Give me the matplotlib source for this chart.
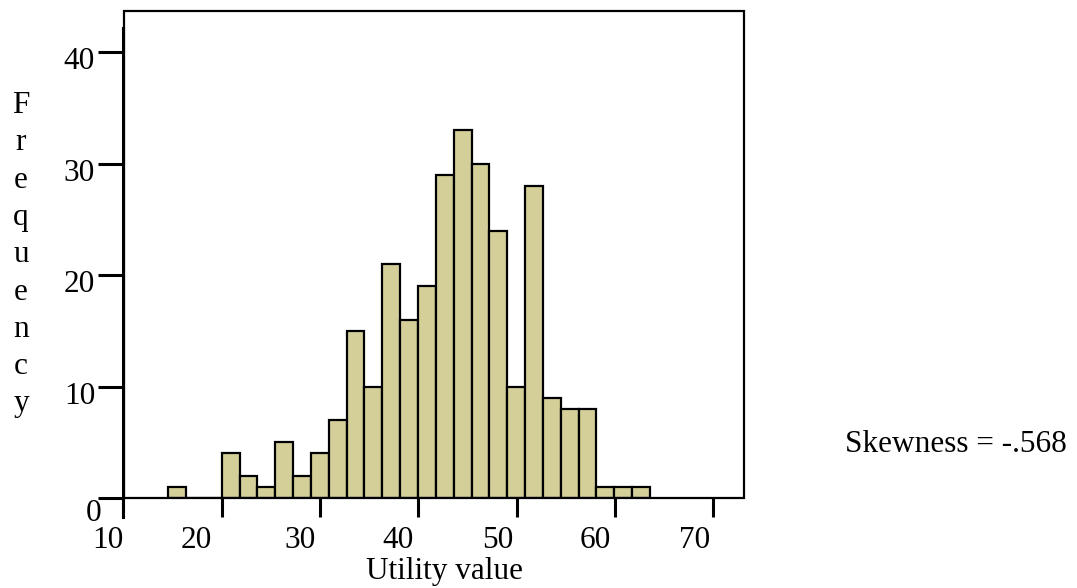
import numpy as np
import matplotlib
matplotlib.use("Agg")
import matplotlib.pyplot as plt
from matplotlib.patches import Rectangle
from matplotlib.transforms import ScaledTranslation

# histogram counts (bins of equal width)
counts = [1, 0, 0, 4, 2, 1, 5, 2, 4, 7, 15, 10, 21, 16, 19,
          29, 33, 30, 24, 10, 28, 9, 8, 8, 1, 1, 1]
bin_start = 14.55
bin_width = 1.815

x_ticks = [10, 20, 30, 40, 50, 60, 70]
y_ticks = [0, 10, 20, 30, 40]
x_label = "Utility value"
y_label = "Frequency"
note = "Skewness = -.568"

W, H = 1077, 588
plt.rcParams['font.family'] = ['Liberation Serif', 'DejaVu Serif']
fig = plt.figure(figsize=(W / 100, H / 100), dpi=100)
ax = fig.add_axes([123.5 / W, (H - 498) / H, 620.8 / W, 487 / H])

lefts = bin_start + bin_width * np.arange(len(counts))
ax.bar(lefts, counts, width=bin_width, align='edge',
       color='#d4cf98', edgecolor='black', linewidth=1.6, zorder=2)

ax.set_xlim(10, 73.15)
ax.set_ylim(0, 43.7)

for s in ax.spines.values():
    s.set_visible(False)
ax.add_patch(Rectangle((0, 0), 1, 1, transform=ax.transAxes, fill=False,
                       lw=1.6, ec='black', clip_on=False, zorder=3))
ax.axvline(10, ymin=-0.039, ymax=0.965, color='black', lw=2.2,
           clip_on=False, zorder=4)

fs = 22.5
ax.set_xticks(x_ticks)
ax.set_yticks(y_ticks)
ax.set_xticklabels([str(v) for v in x_ticks], fontsize=fs, ha='right')
ax.set_yticklabels([str(v) for v in y_ticks], fontsize=fs)
ax.tick_params(axis='x', length=14, width=2.2, pad=6, direction='out')
ax.tick_params(axis='y', length=19, width=2.2, pad=1.5, direction='out')

# small per-label nudges so the labels sit where they do in the original
x_shift = [0, -10, -4, -5, -3, -4, -3]
for lab, dx in zip(ax.get_xticklabels(), x_shift):
    lab.set_transform(lab.get_transform() +
                      ScaledTranslation(dx / 100, 0, fig.dpi_scale_trans))
y_shift = [(6, -12), (0, -6), (0, -6), (0, -6), (0, -6)]
for lab, (dx, dy) in zip(ax.get_yticklabels(), y_shift):
    lab.set_transform(lab.get_transform() +
                      ScaledTranslation(dx / 100, dy / 100, fig.dpi_scale_trans))

# stacked letters for the y label
for i, ch in enumerate(y_label):
    fig.text(21 / W, 1 - (113 + 37.3 * i) / H, ch, fontsize=fs,
             ha='center', va='baseline')

fig.text(444 / W, 1 - 579 / H, x_label, fontsize=fs, ha='center', va='baseline')
fig.text(845 / W, 1 - 452 / H, note, fontsize=fs, ha='left', va='baseline')

fig.savefig("out.png", dpi=100)
